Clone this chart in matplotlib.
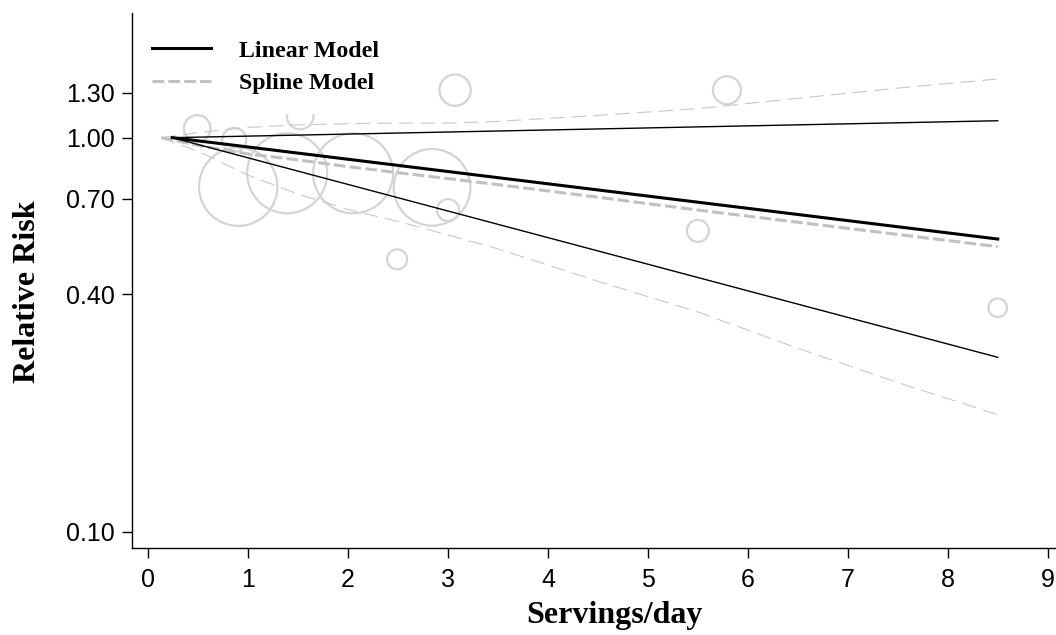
import numpy as np
import matplotlib
matplotlib.use('Agg')
import matplotlib.pyplot as plt
from matplotlib.ticker import FixedLocator, FormatStrFormatter, NullLocator

# study-level relative risks (bubble size ~ study weight)
study_x = [0.49, 3.07, 1.52, 0.86, 0.90, 1.39, 2.05, 2.84, 3.00, 2.49, 5.79, 5.50, 8.50]
study_rr = [1.056, 1.32, 1.135, 0.987, 0.751, 0.812, 0.812, 0.748, 0.655, 0.491, 1.32, 0.580, 0.370]
study_weight = [17.7, 24.6, 17.7, 14.4, 154, 160, 160, 147, 12.1, 10, 19.6, 12.1, 8.6]

# linear dose-response model
lin_x = [0.24, 8.5]
lin_rr = [1.0, 0.553]
lin_lo = [1.0, 0.277]
lin_hi = [1.0, 1.104]

# restricted cubic spline model
spl_x = [0.13, 0.5, 1.0, 1.5, 2.0, 2.5, 3.0, 3.5, 4.5, 5.5, 6.5, 7.5, 8.5]
spl_rr = [1.0, 0.956, 0.909, 0.878, 0.844, 0.815, 0.787, 0.760, 0.706, 0.655, 0.610, 0.568, 0.529]
spl_lo = [1.0, 0.923, 0.803, 0.719, 0.657, 0.613, 0.566, 0.522, 0.432, 0.361, 0.292, 0.239, 0.198]
spl_hi = [1.0, 1.030, 1.062, 1.078, 1.085, 1.089, 1.089, 1.100, 1.139, 1.185, 1.259, 1.336, 1.409]

yticks = [0.10, 0.40, 0.70, 1.00, 1.30]

fig = plt.figure(figsize=(10.56, 6.35), dpi=100)
ax = fig.add_axes([0.1247, 0.1365, 0.8753, 0.8435])

ax.scatter(study_x, study_rr, s=np.array(study_weight) * 20.7, facecolors='none',
           edgecolors='#d4d4d4', linewidths=1.6, zorder=1)

spl_line, = ax.plot(spl_x, spl_rr, color='#c0c0c0', lw=2.2,
                    linestyle=(0, (3.8, 1.4)), zorder=2)
ax.plot(spl_x, spl_lo, color='#c8c8c8', lw=0.8, linestyle=(0, (13, 6.5)), zorder=2)
ax.plot(spl_x, spl_hi, color='#c8c8c8', lw=0.8, linestyle=(0, (13, 6.5)), zorder=2)

lin_line, = ax.plot(lin_x, lin_rr, color='black', lw=2.2, zorder=2.1)
ax.plot(lin_x, lin_lo, color='black', lw=1.0, zorder=2.1)
ax.plot(lin_x, lin_hi, color='black', lw=1.0, zorder=2.1)

ax.set_yscale('log')
ax.set_xlim(-0.166, 9.083)
ax.set_ylim(0.0907, 2.076)
ax.yaxis.set_major_locator(FixedLocator(yticks))
ax.yaxis.set_major_formatter(FormatStrFormatter('%.2f'))
ax.yaxis.set_minor_locator(NullLocator())
ax.set_xticks(range(0, 10))

for side in ['top', 'right']:
    ax.spines[side].set_visible(False)
for side in ['left', 'bottom']:
    ax.spines[side].set_linewidth(1.0)
ax.tick_params(length=7, width=1.0, labelsize=18)
ax.tick_params(axis='x', pad=7)
ax.tick_params(axis='y', pad=5)
for lab in ax.get_xticklabels() + ax.get_yticklabels():
    lab.set_fontfamily('Liberation Sans')

ax.set_xlabel('Servings/day', fontfamily='Liberation Serif', fontweight='bold', fontsize=23)
ax.set_ylabel('Relative Risk', fontfamily='Liberation Serif', fontweight='bold', fontsize=23)
ax.xaxis.set_label_coords(0.522, -0.098)
ax.yaxis.set_label_coords(-0.097, 0.48)

leg = ax.legend([lin_line, spl_line], ['Linear Model', 'Spline Model'],
                loc='upper left', bbox_to_anchor=(0.0, 0.987),
                prop={'family': 'Liberation Serif', 'weight': 'bold', 'size': 17.2},
                handlelength=2.47, handletextpad=1.17, labelspacing=0.45,
                borderpad=0.85, borderaxespad=0.0,
                frameon=True, fancybox=False, facecolor='white',
                edgecolor='none', framealpha=1.0)
leg.set_zorder(2.3)

fig.savefig('out.png', dpi=100)
